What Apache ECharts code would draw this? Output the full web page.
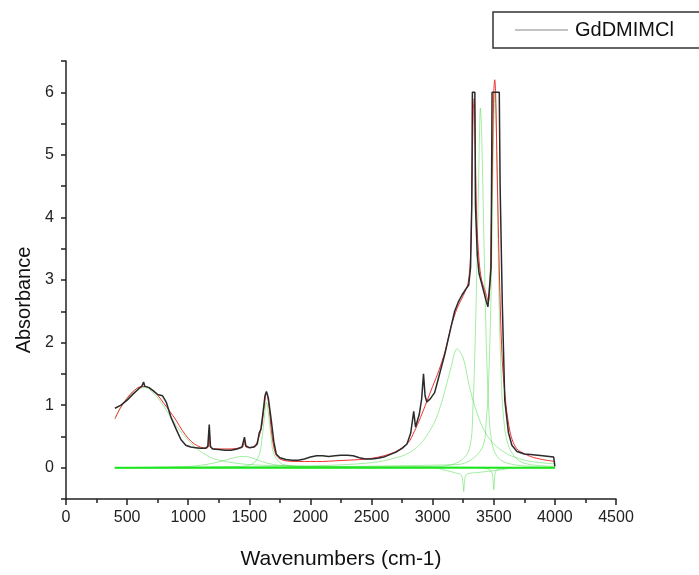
<!DOCTYPE html>
<html>
<head>
<meta charset="utf-8">
<script src="https://cdn.jsdelivr.net/npm/echarts@6/dist/echarts.min.js"></script>
<style>
  html, body { margin: 0; padding: 0; background: #fff; }
  #chart { width: 699px; height: 575px; }
</style>
</head>
<body>
<div id="chart"></div>
<script>
// FTIR spectrum of GdDMIMCl with peak-fit results: [wavenumber, absorbance]
const measured = [
  [400,0.95],[450,1.0],[500,1.08],[550,1.18],[600,1.27],[620,1.3],[635,1.37],[645,1.3],[680,1.28],
  [720,1.22],[750,1.17],[790,1.15],[820,1.05],[860,0.8],[900,0.62],[940,0.45],[980,0.36],[1020,0.33],
  [1060,0.32],[1100,0.31],[1140,0.31],[1160,0.34],[1172,0.69],[1182,0.34],[1200,0.3],[1250,0.29],
  [1300,0.28],[1350,0.28],[1400,0.3],[1440,0.33],[1460,0.49],[1472,0.35],[1500,0.32],[1540,0.33],
  [1565,0.38],[1580,0.55],[1595,0.62],[1610,0.85],[1628,1.15],[1640,1.22],[1655,1.12],[1680,0.75],
  [1700,0.42],[1720,0.22],[1750,0.16],[1800,0.13],[1850,0.12],[1900,0.12],[1950,0.14],[2000,0.17],
  [2050,0.19],[2100,0.19],[2150,0.18],[2200,0.19],[2250,0.2],[2300,0.2],[2350,0.19],[2400,0.16],
  [2450,0.14],[2500,0.14],[2550,0.15],[2600,0.17],[2650,0.21],[2700,0.25],[2750,0.31],[2790,0.38],
  [2820,0.55],[2845,0.9],[2860,0.65],[2890,0.85],[2910,1.1],[2925,1.5],[2938,1.15],[2952,1.05],
  [2980,1.1],[3016,1.2],[3050,1.45],[3100,1.82],[3150,2.25],[3180,2.5],[3210,2.65],[3240,2.76],
  [3270,2.85],[3295,2.92],[3310,3.2],[3320,4.2],[3325,6.0],[3345,6.0],[3350,4.2],[3365,3.4],
  [3380,3.1],[3400,2.95],[3420,2.8],[3440,2.65],[3452,2.57],[3468,2.6],[3478,3.2],[3486,6.0],
  [3545,6.0],[3552,4.5],[3570,2.6],[3590,1.08],[3620,0.56],[3648,0.36],[3690,0.26],[3750,0.22],
  [3800,0.21],[3900,0.19],[3990,0.17],[4000,0.16],[4000,0.02]
];

const cumulativeFit = [
  [400,0.78],[450,0.97],[500,1.11],[550,1.22],[600,1.29],[650,1.3],[700,1.25],[750,1.16],[800,1.03],
  [850,0.9],[900,0.76],[950,0.6],[1000,0.47],[1050,0.38],[1100,0.33],[1150,0.31],[1165,0.34],
  [1172,0.6],[1180,0.33],[1250,0.3],[1300,0.3],[1350,0.3],[1400,0.31],[1445,0.33],[1460,0.42],
  [1472,0.33],[1500,0.32],[1550,0.36],[1580,0.5],[1600,0.65],[1620,0.95],[1640,1.2],[1660,1.0],
  [1680,0.6],[1700,0.33],[1720,0.2],[1750,0.14],[1800,0.11],[1900,0.1],[2000,0.1],[2100,0.1],
  [2200,0.11],[2300,0.12],[2400,0.13],[2500,0.15],[2600,0.19],[2700,0.26],[2800,0.4],[2850,0.58],
  [2900,0.8],[2950,1.05],[3000,1.3],[3050,1.55],[3100,1.85],[3150,2.25],[3200,2.55],[3250,2.75],
  [3290,2.95],[3310,3.4],[3322,4.6],[3332,5.7],[3340,5.9],[3348,5.2],[3360,4.0],[3380,3.3],
  [3400,3.0],[3425,2.85],[3440,2.75],[3455,2.65],[3470,3.0],[3485,4.5],[3500,6.0],[3508,6.2],[3515,6.0],
  [3530,4.5],[3550,2.8],[3570,1.7],[3600,1.0],[3630,0.6],[3660,0.4],[3700,0.28],[3800,0.18],
  [3900,0.13],[4000,0.1]
];

// individual fitted bands
const band620 = [
  [400,0.8],[450,0.98],[500,1.12],[550,1.22],[600,1.28],[650,1.28],[700,1.22],[750,1.12],[800,0.98],
  [850,0.83],[900,0.68],[950,0.55],[1000,0.44],[1050,0.34],[1100,0.26],[1150,0.2],[1200,0.15],
  [1300,0.1],[1400,0.07],[1500,0.05],[1600,0.04],[1800,0.03],[2000,0.02],[2500,0.01],[3000,0.01],[4000,0.0]
];
const band1450 = [
  [400,0.0],[1000,0.02],[1100,0.04],[1200,0.07],[1300,0.12],[1400,0.17],[1450,0.18],[1500,0.17],
  [1600,0.1],[1700,0.05],[1800,0.03],[2000,0.01],[4000,0.0]
];
const band1640 = [
  [400,0.0],[1400,0.02],[1500,0.04],[1550,0.1],[1580,0.2],[1600,0.4],[1620,0.75],[1640,1.05],
  [1660,0.8],[1680,0.45],[1700,0.22],[1750,0.08],[1800,0.04],[1900,0.02],[4000,0.0]
];
const band3200 = [
  [400,0.0],[2000,0.03],[2500,0.08],[2700,0.16],[2800,0.23],[2900,0.38],[3000,0.67],[3050,0.9],
  [3100,1.23],[3150,1.6],[3200,1.9],[3250,1.75],[3300,1.3],[3350,0.95],[3400,0.68],[3450,0.5],
  [3500,0.38],[3600,0.23],[3700,0.15],[3800,0.1],[4000,0.06]
];
const band3390 = [
  [400,0.0],[3000,0.02],[3200,0.08],[3300,0.3],[3330,1.0],[3350,2.2],[3370,4.0],[3385,5.5],[3390,5.75],
  [3400,5.4],[3420,3.6],[3440,1.9],[3460,0.9],[3480,0.45],[3520,0.2],[3600,0.08],[3800,0.02],[4000,0.01]
];
const band3510 = [
  [400,0.0],[3200,0.05],[3400,0.3],[3440,0.8],[3460,1.5],[3480,3.0],[3495,5.0],[3510,6.0],[3525,5.0],
  [3540,3.0],[3560,1.5],[3580,0.8],[3620,0.35],[3700,0.12],[3800,0.05],[4000,0.02]
];
const negBand3254 = [
  [400,0.0],[3000,0.0],[3100,-0.04],[3200,-0.09],[3235,-0.12],[3248,-0.25],[3254,-0.38],[3260,-0.25],
  [3275,-0.11],[3350,-0.08],[3450,-0.06],[3600,-0.02],[3700,0.0],[4000,0.0]
];
const negBand3500 = [
  [400,0.0],[3300,0.0],[3450,-0.02],[3485,-0.08],[3494,-0.2],[3500,-0.35],[3506,-0.2],[3516,-0.06],
  [3560,-0.01],[3650,0.0],[4000,0.0]
];
const baseline = [[400,0.0],[4000,0.0]];

const xTicks = { min: 0, max: 4500, step: 500 };
const yTicks = { min: -0.5, max: 6.5, step: 0.5 };

const chart = echarts.init(document.getElementById('chart'), null, { renderer: 'canvas' });

const bandStyle = { color: 'rgba(50,215,50,0.45)', width: 1 };
function bandSeries(name, data) {
  return {
    name: name, type: 'line', data: data, showSymbol: false, smooth: 0.35,
    lineStyle: bandStyle, z: 2, silent: true
  };
}

chart.setOption({
  backgroundColor: '#ffffff',
  animation: false,
  textStyle: { fontFamily: 'Liberation Sans, Arial, sans-serif' },
  grid: { left: 66, right: 83, top: 61, bottom: 67 },
  legend: {
    data: [{ name: 'GdDMIMCl', icon: 'rect', itemStyle: { color: '#888' } }],
    left: 493, top: 12,
    itemWidth: 53, itemHeight: 1, itemGap: 6,
    padding: [7, 60, 7, 22],
    borderColor: '#333', borderWidth: 1.5,
    textStyle: { fontSize: 20, color: '#111', lineHeight: 22, padding: [0, 0, 0, 2] }
  },
  xAxis: {
    type: 'value', min: xTicks.min, max: xTicks.max, interval: xTicks.step,
    name: 'Wavenumbers (cm-1)', nameLocation: 'middle', nameGap: 50,
    nameTextStyle: { fontSize: 21, color: '#111' },
    axisLine: { onZero: false, lineStyle: { color: '#222', width: 1.5 } },
    axisTick: { length: 6, lineStyle: { color: '#222', width: 1.5 } },
    minorTick: { show: true, splitNumber: 2, length: 4, lineStyle: { color: '#222', width: 1.5 } },
    axisLabel: { fontSize: 16, color: '#222', margin: 11, formatter: function (v) { return String(v); } },
    splitLine: { show: false }
  },
  yAxis: {
    type: 'value', min: yTicks.min, max: yTicks.max, interval: yTicks.step,
    name: 'Absorbance', nameLocation: 'middle', nameGap: 31,
    nameTextStyle: { fontSize: 20, color: '#111', padding: [0, 40, 0, 0] },
    axisLine: { onZero: false, lineStyle: { color: '#222', width: 1.5 } },
    axisTick: { length: 5, lineStyle: { color: '#222', width: 1.5 } },
    axisLabel: {
      fontSize: 16, color: '#222', margin: 12,
      formatter: function (v) { return Number.isInteger(v) ? String(v) : ''; }
    },
    splitLine: { show: false }
  },
  series: [
    {
      name: 'baseline', type: 'line', data: baseline, showSymbol: false,
      lineStyle: { color: '#1ee61e', width: 2 }, z: 3, silent: true
    },
    bandSeries('band620', band620),
    bandSeries('band1450', band1450),
    bandSeries('band1640', band1640),
    bandSeries('band3200', band3200),
    bandSeries('band3390', band3390),
    bandSeries('band3510', band3510),
    bandSeries('negBand3254', negBand3254),
    bandSeries('negBand3500', negBand3500),
    {
      name: 'fit', type: 'line', data: cumulativeFit, showSymbol: false, smooth: 0.3,
      lineStyle: { color: '#f03030', width: 1 }, z: 4, silent: true
    },
    {
      name: 'GdDMIMCl', type: 'line', data: measured, showSymbol: false,
      lineStyle: { color: '#2b2b2b', width: 1.5 }, z: 5, silent: true
    }
  ]
});
</script>
</body>
</html>
